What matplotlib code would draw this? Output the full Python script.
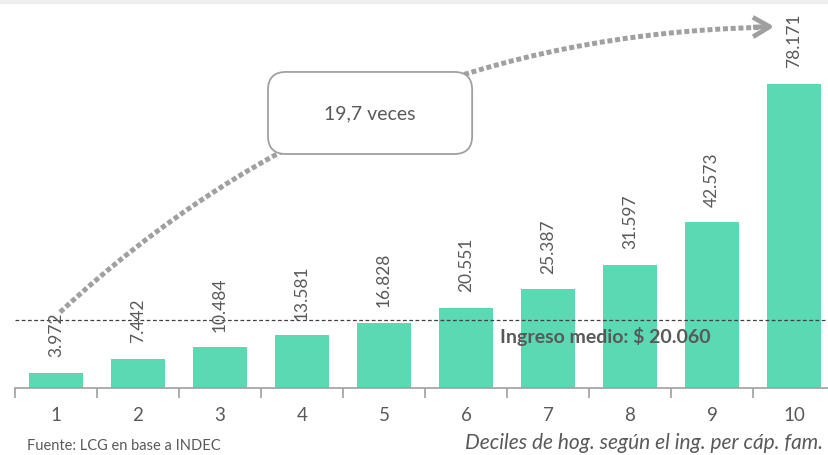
import numpy as np
import matplotlib
matplotlib.use("Agg")
import matplotlib.pyplot as plt
from matplotlib.patches import Rectangle, FancyBboxPatch

plt.rcParams['font.family'] = ['Lato', 'DejaVu Sans']

# data
deciles = ['1', '2', '3', '4', '5', '6', '7', '8', '9', '10']
ingreso = [3972, 7442, 10484, 13581, 16828, 20551, 25387, 31597, 42573, 78171]
labels = ['3.972', '7.442', '10.484', '13.581', '16.828',
          '20.551', '25.387', '31.597', '42.573', '78.171']
media_line = 17400          # where the dashed line sits in the picture
media_text = 'Ingreso medio: $ 20.060'
veces_text = '19,7 veces'

bar_color = '#5AD9B3'
gray = '#595959'
arrow_gray = '#A0A0A0'

fig = plt.figure(figsize=(8.29, 4.56), dpi=100)
ax = fig.add_axes([15 / 829, 67 / 456, 820 / 829, 389 / 456])

x = np.arange(len(deciles))
ax.bar(x, ingreso, width=0.67, color=bar_color, zorder=2)

ax.set_xlim(-0.5, 9.5)
ax.set_ylim(0, 100000)

for xi, v, lab in zip(x, ingreso, labels):
    ax.annotate(lab, (xi, v), xytext=(0, 12), textcoords='offset points',
                rotation=90, ha='center', va='bottom', fontsize=12.5,
                color=gray, zorder=4)

# mean line
ax.axhline(media_line, color='#404040', lw=0.9, ls=(0, (3, 2)), zorder=3)
ax.text(6.7, 13400, media_text, ha='center', va='center', fontsize=14,
        fontweight='bold', color=gray, zorder=4)

# dotted curved arrow from decile 1 to decile 10
ax.annotate('', xy=(8.6, 92700), xytext=(0.05, 19500),
            arrowprops=dict(arrowstyle='-', color=arrow_gray, lw=3.6,
                            linestyle=(0, (1.0, 0.55)), capstyle='butt',
                            connectionstyle='arc3,rad=-0.19',
                            shrinkA=0, shrinkB=0), zorder=1)
ax.annotate('', xy=(8.76, 92900), xytext=(8.5, 92800),
            arrowprops=dict(arrowstyle='->,head_length=1.2,head_width=0.7',
                            color=arrow_gray, lw=3.4, capstyle='butt',
                            shrinkA=0, shrinkB=0), zorder=1)

# rounded box with the ratio
bw, bh = 2.49, 21100
bx, by = 3.83, 70700
box = FancyBboxPatch((bx - bw / 2, by - bh / 2), bw, bh,
                     boxstyle='round,pad=0,rounding_size=0.22',
                     mutation_aspect=21080, fc='white', ec='#A0A0A0',
                     lw=1.3, zorder=5)
ax.add_patch(box)
ax.text(bx, by, veces_text, ha='center', va='center', fontsize=14,
        color=gray, zorder=6)

# axes look
for s in ['top', 'right', 'left']:
    ax.spines[s].set_visible(False)
ax.spines['bottom'].set_color('#A0A0A0')
ax.spines['bottom'].set_linewidth(1.2)
ax.set_yticks([])
ax.set_xticks(x)
ax.set_xticklabels(deciles, fontsize=13.5, color=gray)
ax.tick_params(axis='x', which='major', length=0, pad=13)
ax.set_xticks(np.arange(-0.5, 10, 1), minor=True)
ax.tick_params(axis='x', which='minor', length=7, width=1.2, color='#A0A0A0',
               direction='out')

fig.text(27 / 829, 1 - 446 / 456, 'Fuente: LCG en base a INDEC', fontsize=10.5,
         color=gray, va='center', ha='left')
fig.text(823 / 829, 1 - 443 / 456, 'Deciles de hog. según el ing. per cáp. fam.',
         fontsize=15, style='italic', color=gray, va='center', ha='right')

fig.patches.append(Rectangle((0, 1 - 4 / 456), 1, 4 / 456, transform=fig.transFigure,
                             color='#EEEEEE', zorder=0))

fig.savefig('out.png', dpi=100)
